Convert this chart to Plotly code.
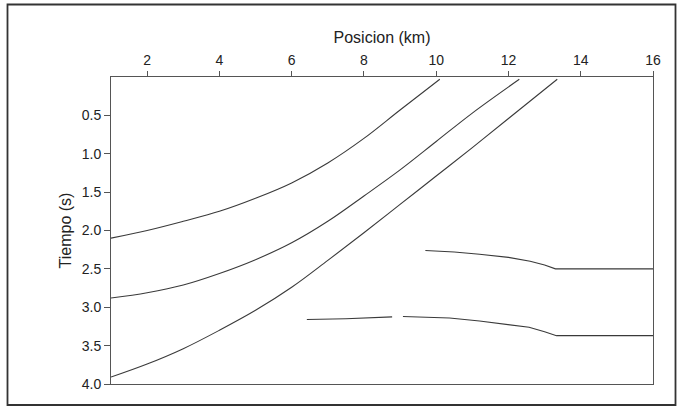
import plotly.graph_objects as go

# ---- data ----
c1_x = [1.0, 2.0, 3.0, 4.0, 5.0, 6.0, 7.0, 8.0, 9.0, 10.1]
c1_t = [2.10, 2.00, 1.88, 1.75, 1.58, 1.38, 1.12, 0.80, 0.43, 0.03]

c2_x = [1.0, 2.0, 3.0, 4.0, 5.0, 6.0, 7.0, 8.0, 9.0, 10.0, 11.0, 12.3]
c2_t = [2.88, 2.81, 2.71, 2.56, 2.38, 2.16, 1.88, 1.55, 1.21, 0.84, 0.47, 0.03]

c3_x = [1.0, 2.0, 3.0, 4.0, 5.0, 6.0, 7.0, 8.0, 9.0, 10.0, 11.0, 12.0, 13.35]
c3_t = [3.91, 3.74, 3.54, 3.30, 3.04, 2.74, 2.39, 2.03, 1.66, 1.29, 0.92, 0.54, 0.03]

r1_x = [9.7, 10.5, 11.2, 12.0, 12.6, 13.0, 13.3, 16.0]
r1_t = [2.26, 2.28, 2.31, 2.35, 2.40, 2.45, 2.50, 2.50]

r2_x = [6.42, 7.5, 8.78, None, 9.08, 10.37, 11.2, 11.75, 12.57, 13.0, 13.33, 16.0]
r2_t = [3.16, 3.15, 3.125, None, 3.12, 3.14, 3.18, 3.21, 3.26, 3.32, 3.37, 3.37]

x_ticks = [2, 4, 6, 8, 10, 12, 14, 16]
y_ticks = [0.5, 1.0, 1.5, 2.0, 2.5, 3.0, 3.5, 4.0]

# ---- layout constants ----
W, H = 684, 408
L, R, T, B = 111, 31, 77, 24
PW, PH = W - L - R, H - T - B

line = dict(color="#3a3a3a", width=1.1)
fig = go.Figure()
for xs, ts, shape in [(c1_x, c1_t, "spline"), (c2_x, c2_t, "spline"),
                      (c3_x, c3_t, "spline"), (r1_x, r1_t, "linear"),
                      (r2_x, r2_t, "linear")]:
    fig.add_trace(go.Scatter(x=xs, y=ts, mode="lines",
                             line=dict(line, shape=shape),
                             connectgaps=False, showlegend=False,
                             hoverinfo="skip"))

font = "Liberation Sans, Arial, sans-serif"
fig.update_layout(
    width=W, height=H,
    margin=dict(l=L, r=R, t=T, b=B),
    paper_bgcolor="white", plot_bgcolor="white",
    font=dict(family=font, size=14, color="#222"),
    showlegend=False,
    xaxis=dict(range=[1, 16], side="top", tickvals=x_ticks,
               ticks="outside", ticklen=5, tickcolor="#555",
               showline=True, linecolor="#555", linewidth=1, mirror=True,
               showgrid=False, zeroline=False,
               title=dict(text="Posicion (km)", font=dict(size=16), standoff=4)),
    yaxis=dict(range=[4, 0], tickvals=y_ticks, tickformat=".1f",
               ticks="outside", ticklen=6, tickcolor="#555",
               showline=True, linecolor="#555", linewidth=1, mirror=True,
               showgrid=False, zeroline=False,
               title=dict(text="Tiempo (s)", font=dict(size=16), standoff=6)),
)

def px_x(p):
    return (p - L) / PW

def px_y(p):
    return (H - B - p) / PH

fig.add_shape(type="rect", xref="paper", yref="paper",
              x0=px_x(7.5), x1=px_x(675.5), y0=px_y(405), y1=px_y(4.5),
              line=dict(color="#333", width=1.8), layer="below")

fig.write_html("out.html")
